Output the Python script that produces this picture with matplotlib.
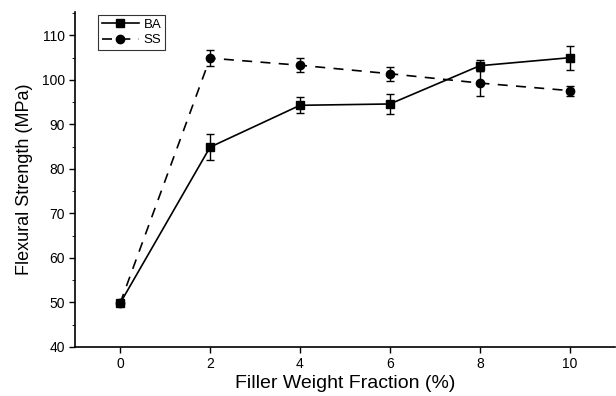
import matplotlib
matplotlib.use("Agg")
from matplotlib import pyplot as plt
from matplotlib.ticker import MultipleLocator
from matplotlib.lines import Line2D

plt.rcParams['font.family'] = ['Liberation Sans', 'DejaVu Sans']

x = [0, 2, 4, 6, 8, 10]
ba = [49.8, 84.9, 94.3, 94.6, 103.2, 105.0]
ba_err = [0, 2.9, 1.8, 2.2, 1.2, 2.7]
ss = [49.8, 104.9, 103.3, 101.4, 99.3, 97.6]
ss_err = [0, 1.8, 1.6, 1.6, 2.8, 1.1]

fig = plt.figure(figsize=(6.16, 3.96), dpi=100)
ax = fig.add_axes([0.122, 0.124, 0.876, 0.846])

dash = (0, (6, 5))
ax.errorbar(x, ba, yerr=ba_err, color='black', lw=1.2, marker='s', ms=6,
            capsize=3, elinewidth=1, capthick=1)
ax.errorbar(x, ss, yerr=ss_err, color='black', lw=1.2, ls=dash, marker='o', ms=6,
            capsize=3, elinewidth=1, capthick=1)

ax.set_xlim(-1, 11)
ax.set_ylim(40, 115.3)
ax.set_xticks(x)
ax.yaxis.set_major_locator(MultipleLocator(10))
ax.yaxis.set_minor_locator(MultipleLocator(5))
ax.spines['top'].set_visible(False)
ax.spines['right'].set_visible(False)
for s in ['left', 'bottom']:
    ax.spines[s].set_linewidth(1.2)
ax.tick_params(labelsize=10, width=1, length=4)
ax.tick_params(which='minor', length=2.5)

ax.set_xlabel('Filler Weight Fraction (%)', fontsize=14, labelpad=3)
ax.set_ylabel('Flexural Strength (MPa)', fontsize=13, labelpad=6)

handles = [Line2D([], [], color='black', lw=1.2, marker='s', ms=6),
           Line2D([], [], color='black', lw=1.2, ls=dash, marker='o', ms=6)]
leg = ax.legend(handles, ['BA', 'SS'], loc='upper left', bbox_to_anchor=(0.043, 0.99),
                fontsize=9.5, frameon=True, fancybox=False, edgecolor='black',
                handlelength=2.8, borderpad=0.25, labelspacing=0.25,
                handletextpad=0.4, borderaxespad=0)
leg.get_frame().set_linewidth(0.8)

fig.savefig('out.png', dpi=100)
